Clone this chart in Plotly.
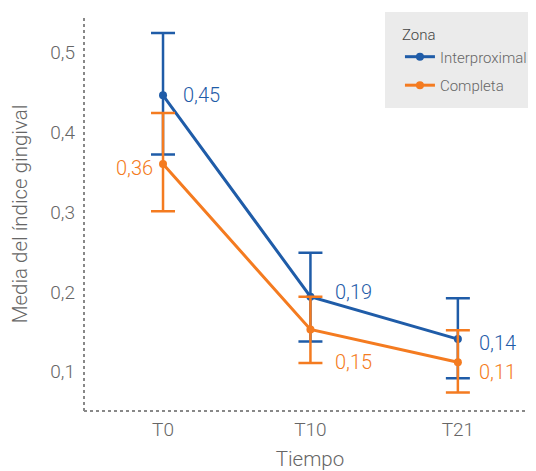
import plotly.graph_objects as go

categories = ["T0", "T10", "T21"]
interproximal = [0.446, 0.194, 0.141]
interproximal_err_plus = [0.078, 0.055, 0.051]
interproximal_err_minus = [0.074, 0.056, 0.049]
completa = [0.360, 0.153, 0.112]
completa_err_plus = [0.064, 0.041, 0.040]
completa_err_minus = [0.059, 0.042, 0.038]
y_ticks = [0.1, 0.2, 0.3, 0.4, 0.5]

BLUE = "#1f5ca8"
ORANGE = "#f47b20"
GRAY = "#666666"
FONT = "Roboto, Liberation Sans, sans-serif"
W = 300

fig = go.Figure()
series = [
    ("Interproximal", interproximal, interproximal_err_plus, interproximal_err_minus, BLUE),
    ("Completa", completa, completa_err_plus, completa_err_minus, ORANGE),
]
for name, vals, ep, em, col in series:
    fig.add_trace(go.Scatter(
        x=categories, y=vals, name=name, mode="lines+markers", legendgroup=name,
        line=dict(color=col, width=3),
        marker=dict(color=col, size=8),
        error_y=dict(type="data", array=ep, arrayminus=em, visible=True,
                     color=col, thickness=2.5, width=12),
    ))

# label offsets (pixels) per point: (dx, dy, xanchor)
blue_off = [(18, 0, "left"), (23, 5, "left"), (19, -4, "left")]
orange_off = [(-8, -4, "right"), (23, -33, "left"), (19, -10, "left")]
for vals, col, offs in [(interproximal, BLUE, blue_off), (completa, ORANGE, orange_off)]:
    for c, v, (dx, dy, xa) in zip(categories, vals, offs):
        fig.add_annotation(x=c, y=v, text=f"{v:.2f}".replace(".", ","),
                           showarrow=False, xshift=dx, yshift=dy, xanchor=xa,
                           font=dict(color=col, size=20, family=FONT, weight=W))

dot = dict(color="#888888", width=2, dash="dot")
fig.add_shape(type="line", xref="paper", yref="paper", x0=0, x1=0, y0=0, y1=1, line=dot)
fig.add_shape(type="line", xref="paper", yref="paper", x0=0, x1=1, y0=0, y1=0, line=dot)
# legend background panel
fig.add_shape(type="rect", xref="paper", yref="paper", x0=0.666, x1=1.0, y0=0.769, y1=1.0127,
              line=dict(width=0), fillcolor="#ebebeb", layer="above")

fig.update_layout(
    width=528, height=463,
    margin=dict(l=76, r=0, t=9, b=60, autoexpand=False),
    plot_bgcolor="white", paper_bgcolor="white",
    separators=",.",
    font=dict(family=FONT, color=GRAY, size=18, weight=W),
    xaxis=dict(range=[-0.536, 2.53], showgrid=False, zeroline=False, showline=False,
               ticks="", ticklabelstandoff=5,
               tickfont=dict(size=19, color=GRAY, weight=W), automargin=False,
               title=dict(text="Tiempo", font=dict(size=20.5, color=GRAY, weight=W), standoff=14)),
    yaxis=dict(range=[0.051, 0.544], showgrid=False, zeroline=False, showline=False,
               tickvals=y_ticks, ticks="", ticklabelstandoff=8, automargin=False,
               tickfont=dict(size=19, color=GRAY, weight=W),
               title=dict(text="Media del índice gingival", font=dict(size=20.5, color=GRAY, weight=W), standoff=19)),
    legend=dict(x=0.699, xanchor="left", y=0.99, yanchor="top",
                bgcolor="rgba(0,0,0,0)", borderwidth=0,
                title=dict(text="Zona", font=dict(size=15, color="#444444", weight=W)),
                font=dict(size=15, color=GRAY, weight=W),
                traceorder="grouped", tracegroupgap=6,
                itemwidth=30),
    showlegend=True,
)

fig.write_html("out.html")
